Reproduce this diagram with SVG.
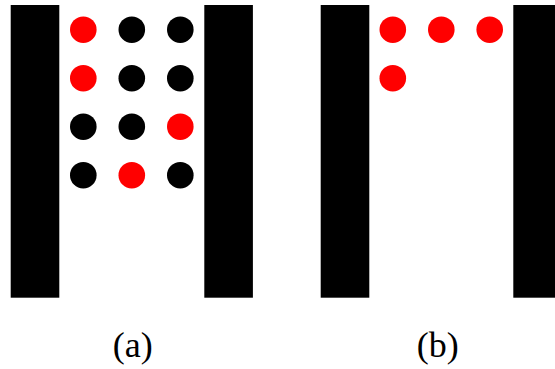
<svg xmlns="http://www.w3.org/2000/svg" width="555" height="369" viewBox="0 0 555 369">
<style>
.bar{fill:#000}
.r{fill:#ff0000}
.k{fill:#000}
.lbl{font-family:"Liberation Serif","DejaVu Serif",serif;font-size:36px;fill:#000;text-anchor:middle}
</style>
<rect width="555" height="369" fill="#fff"/>
<g id="panel-a">
<rect class="bar" x="10.7" y="5" width="48.6" height="292.7"/>
<rect class="bar" x="204.3" y="5" width="48.6" height="292.7"/>
<g id="a-r1"><circle class="r" cx="83.3" cy="29.7" r="13.3"/><circle class="k" cx="131.8" cy="29.7" r="13.3"/><circle class="k" cx="180.3" cy="29.7" r="13.3"/></g>
<g id="a-r2"><circle class="r" cx="83.3" cy="78.2" r="13.3"/><circle class="k" cx="131.8" cy="78.2" r="13.3"/><circle class="k" cx="180.3" cy="78.2" r="13.3"/></g>
<g id="a-r3"><circle class="k" cx="83.3" cy="126.7" r="13.3"/><circle class="k" cx="131.8" cy="126.7" r="13.3"/><circle class="r" cx="180.3" cy="126.7" r="13.3"/></g>
<g id="a-r4"><circle class="k" cx="83.3" cy="175.2" r="13.3"/><circle class="r" cx="131.8" cy="175.2" r="13.3"/><circle class="k" cx="180.3" cy="175.2" r="13.3"/></g>
<text class="lbl" x="132.8" y="357">(a)</text>
</g>
<g id="panel-b">
<rect class="bar" x="320.7" y="5" width="48.6" height="292.7"/>
<rect class="bar" x="513.3" y="5" width="48.6" height="292.7"/>
<g id="b-r1"><circle class="r" cx="392.8" cy="29.7" r="13.3"/><circle class="r" cx="441.3" cy="29.7" r="13.3"/><circle class="r" cx="489.7" cy="29.7" r="13.3"/></g>
<g id="b-r2"><circle class="r" cx="392.8" cy="78.2" r="13.3"/></g>
<text class="lbl" x="437.8" y="357">(b)</text>
</g>
<g id="connectors"/>
</svg>
